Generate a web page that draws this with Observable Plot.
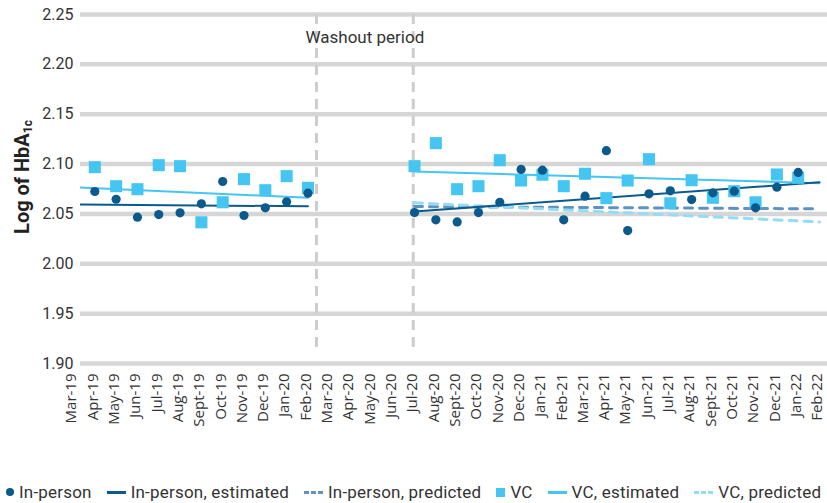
<!DOCTYPE html>
<html>
<head>
<meta charset="utf-8">
<script src="https://cdn.jsdelivr.net/npm/d3@7"></script>
<script src="https://cdn.jsdelivr.net/npm/@observablehq/plot@0.6"></script>
<style>
  html, body { margin: 0; padding: 0; background: #fff; }
  #wrap { position: relative; width: 827px; height: 503px; overflow: hidden; }
  #ytitle { position: absolute; left: 22px; top: 177px; transform: translate(-50%, -50%) rotate(-90deg);
    font-family: Roboto, sans-serif; font-weight: 700; font-size: 20px; color: #222; white-space: nowrap; }
  #ytitle sub { font-size: 12px; vertical-align: -3px; }
  #legend { position: absolute; left: 6px; top: 482px; display: flex; align-items: center;
    font-family: Roboto, sans-serif; font-size: 17px; color: #333; white-space: nowrap; letter-spacing: 0.2px; }
  .item { display: flex; align-items: center; margin-right: 15px; }
  .sw { display: inline-block; margin-right: 5px; }
</style>
</head>
<body>
<div id="wrap">
  <div id="chart"></div>
  <div id="ytitle">Log of HbA<sub>1c</sub></div>
  <div id="legend"></div>
</div>
<script>
// ---- Data ----
const months = ["Mar-19","Apr-19","May-19","Jun-19","Jul-19","Aug-19","Sept-19","Oct-19","Nov-19","Dec-19","Jan-20","Feb-20",
  "Mar-20","Apr-20","May-20","Jun-20","Jul-20","Aug-20","Sept-20","Oct-20","Nov-20","Dec-20","Jan-21","Feb-21",
  "Mar-21","Apr-21","May-21","Jun-21","Jul-21","Aug-21","Sept-21","Oct-21","Nov-21","Dec-21","Jan-22","Feb-22"];

const inPerson = [null,2.0725,2.0647,2.0467,2.0494,2.0511,2.0601,2.0825,2.0484,2.0561,2.0621,2.0708,
  null,null,null,null,2.0514,2.0441,2.0420,2.0514,2.0617,2.0946,2.0939,2.0441,
  2.0678,2.1134,2.0333,2.0702,2.0732,2.0644,2.0712,2.0728,2.0561,2.0768,2.0916,null];

const vc = [null,2.0969,2.0778,2.0748,2.0989,2.0979,2.0416,2.0617,2.0849,2.0738,2.0879,2.0762,
  null,null,null,null,2.0979,2.1210,2.0748,2.0778,2.1039,2.0835,2.0893,2.0778,
  2.0903,2.0658,2.0835,2.1049,2.0607,2.0838,2.0662,2.0728,2.0617,2.0896,2.0862,null];

const inPersonEstimated = [
  {period: "pre", month: "Mar-19", value: 2.0594}, {period: "pre", month: "Feb-20", value: 2.0577},
  {period: "post", month: "Jul-20", value: 2.0524}, {period: "post", month: "Feb-22", value: 2.0818}];
const vcEstimated = [
  {period: "pre", month: "Mar-19", value: 2.0768}, {period: "pre", month: "Feb-20", value: 2.0662},
  {period: "post", month: "Jul-20", value: 2.0926}, {period: "post", month: "Feb-22", value: 2.0808}];
const inPersonPredicted = [{month: "Jul-20", value: 2.0574}, {month: "Feb-22", value: 2.0551}];
const vcPredicted = [{month: "Jul-20", value: 2.0611}, {month: "Feb-22", value: 2.0420}];

// washout boundaries, in month-index units
const washout = [11.4, 15.94];
const washoutLabel = "Washout period";
const yTicks = [1.90, 1.95, 2.00, 2.05, 2.10, 2.15, 2.20, 2.25];

// ---- Colors ----
const cDark = "#0b5a8d", cLight = "#45c5f2", cDarkPred = "#5f93bd", cLightPred = "#93dcf6";

const idx = m => months.indexOf(m);
const pts = arr => arr.map((v, i) => ({i, v})).filter(d => d.v != null);

const chart = Plot.plot({
  width: 827, height: 470,
  marginLeft: 80, marginRight: 0, marginTop: 14, marginBottom: 107,
  x: {type: "linear", domain: [0, 35], range: [73, 819]},
  y: {domain: [1.90, 2.25]},
  style: {fontFamily: "Roboto, sans-serif", color: "#333", background: "#fff"},
  marks: [
    Plot.ruleY(yTicks, {stroke: "#d6d6d6", strokeWidth: 4.5}),
    Plot.ruleX(washout, {y1: 2.25, y2: 1.912, stroke: "#cdcdcd", strokeWidth: 3, strokeDasharray: "10,7"}),
    Plot.text([washoutLabel], {x: d3.mean(washout), frameAnchor: "top", dy: 16, fontSize: 17, fill: "#333", fontFamily: "Roboto, sans-serif"}),
    Plot.axisY(yTicks, {tickSize: 0, tickPadding: 7, tickFormat: d3.format(".2f"), fontSize: 16, label: null}),
    Plot.axisX(d3.range(months.length), {tickSize: 0, tickPadding: 10, tickRotate: -90, tickFormat: i => months[i],
      fontSize: 15, fontFamily: "'Open Sans', sans-serif", label: null, dx: -2}),
    Plot.line(inPersonPredicted, {x: d => idx(d.month), y: "value", stroke: cDarkPred, strokeWidth: 3, strokeDasharray: "8,7"}),
    Plot.line(vcPredicted, {x: d => idx(d.month), y: "value", stroke: cLightPred, strokeWidth: 3, strokeDasharray: "8,7"}),
    Plot.line(vcEstimated, {x: d => idx(d.month), y: "value", z: "period", stroke: cLight, strokeWidth: 2, clip: "frame"}),
    Plot.line(inPersonEstimated, {x: d => idx(d.month), y: "value", z: "period", stroke: cDark, strokeWidth: 2, clip: "frame"}),
    Plot.dot(pts(vc), {x: "i", y: "v", symbol: "square", r: 6.8, fill: cLight}),
    Plot.dot(pts(inPerson), {x: "i", y: "v", r: 4.6, fill: cDark})
  ]
});
document.getElementById("chart").appendChild(chart);

// ---- Legend ----
const legendItems = [
  {label: "In-person", kind: "circle", color: cDark},
  {label: "In-person, estimated", kind: "line", color: cDark},
  {label: "In-person, predicted", kind: "dash", color: cDarkPred},
  {label: "VC", kind: "square", color: cLight},
  {label: "VC, estimated", kind: "line", color: cLight},
  {label: "VC, predicted", kind: "dash", color: cLightPred}
];
const legend = document.getElementById("legend");
legendItems.forEach((it, k) => {
  const item = document.createElement("span");
  item.className = "item";
  if (k === legendItems.length - 1) item.style.marginRight = "0";
  const sw = document.createElement("span");
  sw.className = "sw";
  if (it.kind === "circle") {
    Object.assign(sw.style, {width: "8px", height: "8px", borderRadius: "50%", background: it.color});
  } else if (it.kind === "square") {
    Object.assign(sw.style, {width: "9px", height: "9px", background: it.color});
  } else if (it.kind === "line") {
    Object.assign(sw.style, {width: "19px", height: "3px", background: it.color});
  } else {
    Object.assign(sw.style, {width: "19px", height: "3px",
      background: `repeating-linear-gradient(90deg, ${it.color} 0 5px, transparent 5px 7px)`});
  }
  item.appendChild(sw);
  const t = document.createElement("span");
  t.textContent = it.label;
  item.appendChild(t);
  legend.appendChild(item);
});
</script>
</body>
</html>
